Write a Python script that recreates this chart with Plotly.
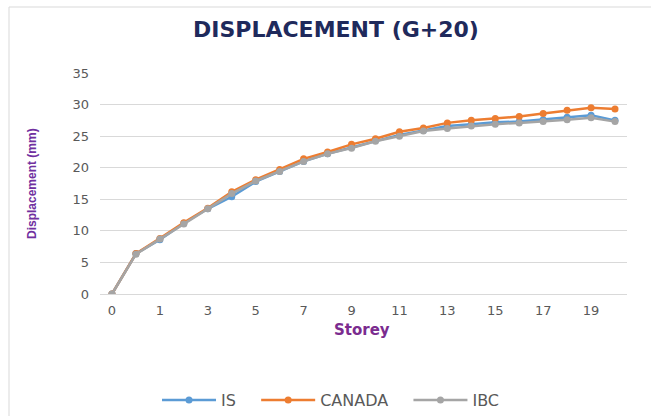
import plotly.graph_objects as go

# Data
x_index = list(range(22))
tick_positions = [0, 2, 4, 6, 8, 10, 12, 14, 16, 18, 20]
tick_labels = ["0", "1", "3", "5", "7", "9", "11", "13", "15", "17", "19"]

is_vals = [0, 6.4, 8.6, 11.2, 13.5, 15.4, 17.8, 19.4, 21.0, 22.2, 23.2, 24.3, 25.2, 25.9, 26.6, 26.9, 27.2, 27.3, 27.6, 28.0, 28.3, 27.5]
canada_vals = [0, 6.4, 8.8, 11.3, 13.6, 16.2, 18.1, 19.7, 21.4, 22.5, 23.7, 24.6, 25.7, 26.3, 27.1, 27.5, 27.8, 28.1, 28.6, 29.1, 29.5, 29.3]
ibc_vals = [0, 6.3, 8.7, 11.1, 13.5, 15.9, 17.9, 19.4, 21.0, 22.2, 23.1, 24.2, 25.0, 25.8, 26.2, 26.6, 26.9, 27.1, 27.3, 27.6, 27.9, 27.3]
series_names = ["IS", "CANADA", "IBC"]

L, R, T, B = 100, 24, 73, 122
PW, PH = 651 - L - R, 416 - T - B


def px(x):
    return (x - L) / PW


def py(y):
    return (416 - B - y) / PH


fig = go.Figure()
for name, vals, col in zip(series_names, [is_vals, canada_vals, ibc_vals],
                           ["#5B9BD5", "#ED7D31", "#A5A5A5"]):
    fig.add_trace(go.Scatter(x=x_index, y=vals, name=name + "\u00a0\u00a0\u00a0",
                             mode="lines+markers",
                             line=dict(color=col, width=2.5),
                             marker=dict(color=col, size=7)))

fig.update_layout(
    width=651, height=416,
    margin=dict(l=L, r=R, t=T, b=B, autoexpand=False),
    paper_bgcolor="white", plot_bgcolor="white",
    font=dict(family="DejaVu Sans", size=12, color="#595959"),
    showlegend=True,
    legend=dict(orientation="h", x=0.52, xanchor="center", xref="container",
                y=(416 - 400) / 416, yanchor="middle", yref="container",
                font=dict(size=16, color="#595959", family="DejaVu Sans"),
                itemwidth=54, tracegroupgap=0),
    xaxis=dict(range=[-0.5, 21.5], tickvals=tick_positions, ticktext=tick_labels,
               showgrid=False, zeroline=False, showline=True, linecolor="#D9D9D9",
               ticks="", ticklabelstandoff=4, tickfont=dict(size=13, color="#595959")),
    yaxis=dict(range=[0, 35], dtick=5, showgrid=True, gridcolor="#D9D9D9",
               zeroline=False, showline=False, ticks="", ticklabelstandoff=10,
               tickfont=dict(size=13, color="#595959")),
    annotations=[
        dict(text="<b>DISPLACEMENT (G+20)</b>", xref="paper", yref="paper",
             x=px(336), y=py(29), xanchor="center", yanchor="middle", showarrow=False,
             font=dict(size=22, color="#1F2A5C", family="DejaVu Sans")),
        dict(text="<b>Storey</b>", xref="paper", yref="paper",
             x=px(362), y=py(330), xanchor="center", yanchor="middle", showarrow=False,
             font=dict(size=15, color="#7B2C8F", family="DejaVu Sans")),
        dict(text="<b>Displacement (mm)</b>", xref="paper", yref="paper",
             x=px(32), y=py(184), xanchor="center", yanchor="middle", showarrow=False,
             textangle=-90,
             font=dict(size=12, color="#7030A0", family="Liberation Sans")),
    ],
    shapes=[dict(type="rect", xref="paper", yref="paper",
                 x0=px(9), x1=px(660), y0=py(430), y1=py(7),
                 line=dict(color="#D9D9D9", width=1))],
)

fig.write_html("out.html", config={"displayModeBar": False},
               post_script="document.body.style.margin='0';document.body.style.overflow='hidden';")
